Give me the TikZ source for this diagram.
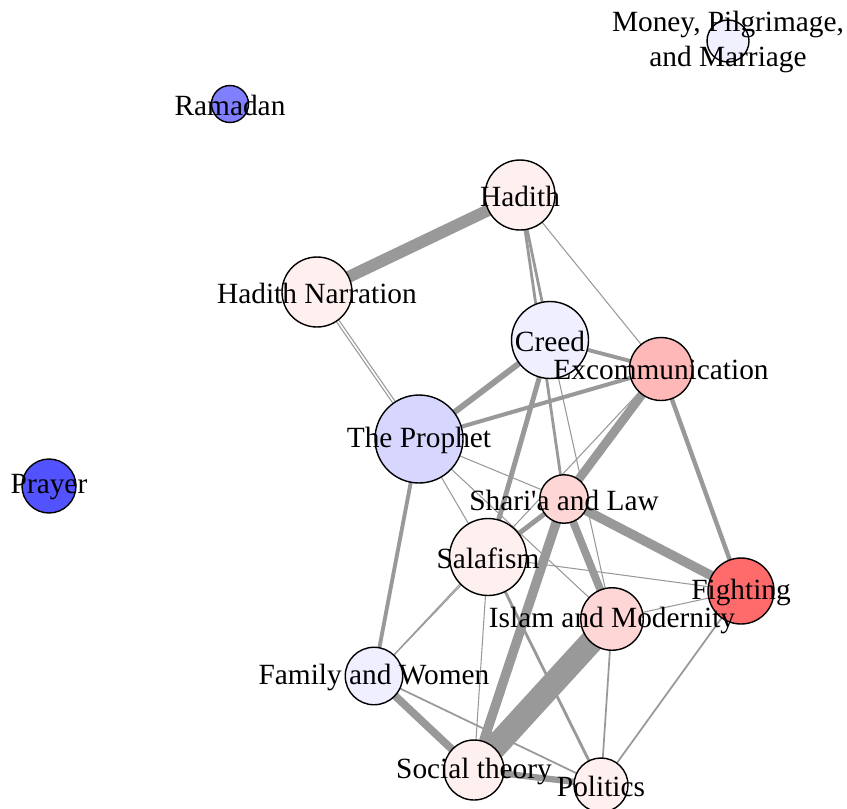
\documentclass[tikz,border=0pt]{standalone}
\usepackage{fontspec}
\setmainfont{Liberation Serif}
\pgfdeclarelayer{bg}\pgfdeclarelayer{fg}
\pgfsetlayers{bg,main,fg}
\definecolor{edgegray}{HTML}{999999}
\definecolor{cMon}{HTML}{F0F0FF}
\definecolor{cRam}{HTML}{8080FF}
\definecolor{cPra}{HTML}{5252FF}
\definecolor{cPinkL}{HTML}{FFF0F0}
\definecolor{cBlueL}{HTML}{EFEFFF}
\definecolor{cExc}{HTML}{FFB8B8}
\definecolor{cPro}{HTML}{D6D6FF}
\definecolor{cSha}{HTML}{FFD6D6}
\definecolor{cFig}{HTML}{FF6A6A}
\begin{document}
\begin{tikzpicture}[x=0.02cm,y=-0.02cm,
  vtx/.style={circle,draw=black,line width=0.8pt,inner sep=0pt,minimum size=#1},
  lbl/.style={font=\fontsize{16.7}{20}\selectfont,inner sep=0pt,align=center,yshift=-0.6pt},
  ed/.style={draw=edgegray,line width=#1}]
\useasboundingbox (0,0) rectangle (847,808);
% vertices
\node[vtx=0.84cm,fill=cMon]   (mon) at (728,41) {};
\node[vtx=0.74cm,fill=cRam]   (ram) at (230,104) {};
\node[vtx=1.40cm,fill=cPinkL] (had) at (520,195) {};
\node[vtx=1.40cm,fill=cPinkL] (hn)  at (317,292) {};
\node[vtx=1.54cm,fill=cBlueL] (cre) at (550,340) {};
\node[vtx=1.26cm,fill=cExc]   (exc) at (661,369) {};
\node[vtx=1.76cm,fill=cPro]   (pro) at (419,439) {};
\node[vtx=1.08cm,fill=cPra]   (pra) at (49,486) {};
\node[vtx=0.97cm,fill=cSha]   (sha) at (564,499) {};
\node[vtx=1.54cm,fill=cPinkL] (sal) at (488,557) {};
\node[vtx=1.32cm,fill=cFig]   (fig) at (741,591) {};
\node[vtx=1.25cm,fill=cSha]   (iam) at (612,619) {};
\node[vtx=1.15cm,fill=cBlueL] (faw) at (374,676) {};
\node[vtx=1.20cm,fill=cPinkL] (soc) at (474,770) {};
\node[vtx=1.08cm,fill=cPinkL] (pol) at (601,785) {};
% edges
\begin{pgfonlayer}{bg}
\draw[ed=6.8pt] (had.center) -- (hn.center);
\draw[ed=1.6pt] (had.center) -- (cre.center);
\draw[ed=1.6pt] (had.center) -- (sha.center);
\draw[ed=0.6pt] (had.center) -- (exc.center);
\draw[ed=0.6pt] ([xshift=0.9pt,yshift=0.6pt]hn.center) -- ([xshift=0.9pt,yshift=0.6pt]pro.center);
\draw[ed=0.6pt] ([xshift=-0.5pt,yshift=-0.3pt]hn.center) -- ([xshift=-0.5pt,yshift=-0.3pt]pro.center);
\draw[ed=3.4pt] (pro.center) -- (cre.center);
\draw[ed=2.3pt] (pro.center) -- (exc.center);
\draw[ed=2.2pt] (cre.center) -- (exc.center);
\draw[ed=2.8pt] (cre.center) -- (sal.center);
\draw[ed=0.6pt] (cre.center) -- (iam.center);
\draw[ed=0.6pt] (pro.center) -- (sha.center);
\draw[ed=0.6pt] (pro.center) -- (sal.center);
\draw[ed=0.6pt] (pro.center) -- (iam.center);
\draw[ed=2.2pt] (pro.center) -- (faw.center);
\draw[ed=5pt]   (exc.center) -- (sha.center);
\draw[ed=2.5pt] (exc.center) -- (fig.center);
\draw[ed=0.6pt] (exc.center) -- (faw.center);
\draw[ed=5.4pt] (sha.center) -- (fig.center);
\draw[ed=4.4pt] (sha.center) -- (iam.center);
\draw[ed=5.4pt] (sha.center) -- (soc.center);
\draw[ed=2.8pt] (sha.center) -- (sal.center);
\draw[ed=0.6pt] (sal.center) -- (faw.center);
\draw[ed=0.6pt] (sal.center) -- (soc.center);
\draw[ed=0.6pt] (sal.center) -- (fig.center);
\draw[ed=1.6pt] (sal.center) -- (pol.center);
\draw[ed=0.6pt] (iam.center) -- (fig.center);
\draw[ed=13.5pt](iam.center) -- (soc.center);
\draw[ed=1pt]   (iam.center) -- (pol.center);
\draw[ed=1pt]   (fig.center) -- (pol.center);
\draw[ed=4.4pt] (faw.center) -- (soc.center);
\draw[ed=1pt]   (faw.center) -- (pol.center);
\draw[ed=3.6pt] (soc.center) -- (pol.center);
\end{pgfonlayer}
% labels
\begin{pgfonlayer}{fg}
\node[lbl] (mon-t) at (mon) {Money, Pilgrimage,\\and Marriage};
\node[lbl] (ram-t) at (ram) {Ramadan};
\node[lbl] (had-t) at (had) {Hadith};
\node[lbl] (hn-t)  at (hn)  {Hadith Narration};
\node[lbl] (cre-t) at (cre) {Creed};
\node[lbl] (exc-t) at (exc) {Excommunication};
\node[lbl] (pro-t) at (pro) {The Prophet};
\node[lbl] (pra-t) at (pra) {Prayer};
\node[lbl] (sha-t) at (sha) {Shari\textquotesingle a and Law};
\node[lbl] (sal-t) at (sal) {Salafism};
\node[lbl] (fig-t) at (fig) {Fighting};
\node[lbl] (iam-t) at (iam) {Islam and Modernity};
\node[lbl] (faw-t) at (faw) {Family and Women};
\node[lbl] (soc-t) at (soc) {Social theory};
\node[lbl] (pol-t) at (pol) {Politics};
\end{pgfonlayer}
\end{tikzpicture}
\end{document}
